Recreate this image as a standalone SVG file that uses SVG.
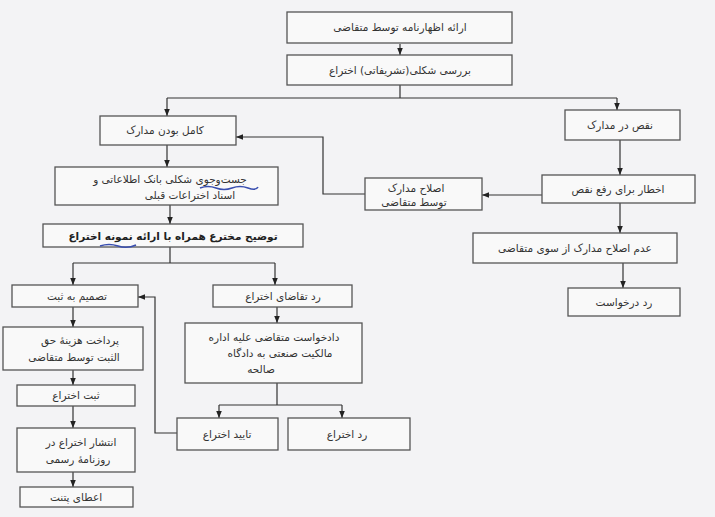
<svg xmlns="http://www.w3.org/2000/svg" width="715" height="517" viewBox="0 0 715 517">
<defs>
<marker id="ah" viewBox="0 0 10 10" refX="10" refY="5" markerWidth="7" markerHeight="7" orient="auto" markerUnits="userSpaceOnUse">
<path d="M0,1 L10,5 L0,9 z" fill="#222"/>
</marker>
<style>
.bx{fill:#f9f9f9;stroke:#555;stroke-width:1.3}
.t{font-family:"DejaVu Sans",sans-serif;font-size:10.5px;fill:#333;text-anchor:middle}
.tb{font-family:"DejaVu Sans",sans-serif;font-size:10.5px;font-weight:bold;fill:#222;text-anchor:middle}
.c{fill:none;stroke:#333;stroke-width:1.2}
.a{marker-end:url(#ah)}
.pen{fill:none;stroke:#3a4fb0;stroke-width:1.6}
</style>
</defs>
<rect width="715" height="517" fill="#f3f3f5"/>

<g id="connectors">
<path class="c a" d="M400,44 V55"/>
<path class="c" d="M400,85 V98 M167,98 H617"/>
<path class="c a" d="M167,98 V116"/>
<path class="c a" d="M617,98 V110"/>
<path class="c a" d="M620,140 V175"/>
<path class="c a" d="M542,195 H482"/>
<path class="c a" d="M365,194 H323 V137 H236"/>
<path class="c a" d="M167,145 V167"/>
<path class="c a" d="M170,205 V224"/>
<path class="c" d="M170,247 V263 M73,263 H275"/>
<path class="c a" d="M73,263 V285"/>
<path class="c a" d="M275,263 V285"/>
<path class="c a" d="M620,203 V233"/>
<path class="c a" d="M623,263 V288"/>
<path class="c a" d="M73,307 V327"/>
<path class="c a" d="M73,370 V385"/>
<path class="c a" d="M73,406 V428"/>
<path class="c a" d="M73,472 V487"/>
<path class="c a" d="M177,433 H155 V297 H138"/>
<path class="c a" d="M277,307 V323"/>
<path class="c" d="M277,383 V405 M219,405 H342"/>
<path class="c a" d="M219,405 V418"/>
<path class="c a" d="M342,405 V418"/>
</g>

<g id="n1"><rect class="bx" x="287" y="12" width="225" height="31"/><text class="t" x="400" y="31">ارائه اظهارنامه توسط متقاضی</text></g>
<g id="n2"><rect class="bx" x="287" y="55" width="225" height="30"/><text class="t" x="400" y="74">بررسی شکلی(تشریفاتی) اختراع</text></g>
<g id="n3"><rect class="bx" x="100" y="116" width="136" height="29"/><text class="t" x="165" y="134">کامل بودن مدارک</text></g>
<g id="n4"><rect class="bx" x="565" y="110" width="115" height="30"/><text class="t" x="620" y="129">نقص در مدارک</text></g>
<g id="n5"><rect class="bx" x="55" y="167" width="223" height="38"/><text class="t" x="170" y="183">جست‌وجوی شکلی بانک اطلاعاتی و</text><text class="t" x="190" y="199">اسناد اختراعات قبلی</text>
<path class="pen" d="M200,188 q8,-3 16,0 t16,0 t16,0 t10,-1"/></g>
<g id="n6"><rect class="bx" x="365" y="178" width="117" height="32"/><text class="t" x="416" y="192">اصلاح مدارک</text><text class="t" x="414" y="206">توسط متقاضی</text></g>
<g id="n7"><rect class="bx" x="542" y="175" width="153" height="28"/><text class="t" x="618" y="193">اخطار برای رفع نقص</text></g>
<g id="n8"><rect class="bx" x="43" y="224" width="260" height="23"/><text class="tb" x="173" y="240">توضیح مخترع همراه با ارائه نمونه اختراع</text>
<path class="pen" d="M100,246 q9,-3 18,0 t18,-1"/></g>
<g id="n9"><rect class="bx" x="473" y="233" width="204" height="30"/><text class="t" x="575" y="252">عدم اصلاح مدارک از سوی متقاضی</text></g>
<g id="n10"><rect class="bx" x="568" y="288" width="112" height="28"/><text class="t" x="624" y="306">رد درخواست</text></g>
<g id="n11"><rect class="bx" x="12" y="285" width="126" height="22"/><text class="t" x="77" y="300">تصمیم به ثبت</text></g>
<g id="n12"><rect class="bx" x="213" y="285" width="139" height="22"/><text class="t" x="283" y="300">رد تقاضای اختراع</text></g>
<g id="n13"><rect class="bx" x="3" y="327" width="140" height="43"/><text class="t" x="80" y="344">پرداخت هزینهٔ حق</text><text class="t" x="74" y="361">الثبت توسط متقاضی</text></g>
<g id="n14"><rect class="bx" x="185" y="323" width="177" height="60"/><text class="t" x="274" y="341">دادخواست متقاضی علیه اداره</text><text class="t" x="280" y="357">مالکیت صنعتی به دادگاه</text><text class="t" x="261" y="373">صالحه</text></g>
<g id="n15"><rect class="bx" x="17" y="385" width="118" height="21"/><text class="t" x="76" y="399">ثبت اختراع</text></g>
<g id="n16"><rect class="bx" x="177" y="418" width="101" height="32"/><text class="t" x="227" y="438">تایید اختراع</text></g>
<g id="n17"><rect class="bx" x="288" y="418" width="122" height="32"/><text class="t" x="347" y="438">رد اختراع</text></g>
<g id="n18"><rect class="bx" x="17" y="428" width="118" height="44"/><text class="t" x="81" y="446">انتشار اختراع در</text><text class="t" x="78" y="463">روزنامهٔ رسمی</text></g>
<g id="n19"><rect class="bx" x="20" y="487" width="113" height="20"/><text class="t" x="76" y="501">اعطای پتنت</text></g>
</svg>
